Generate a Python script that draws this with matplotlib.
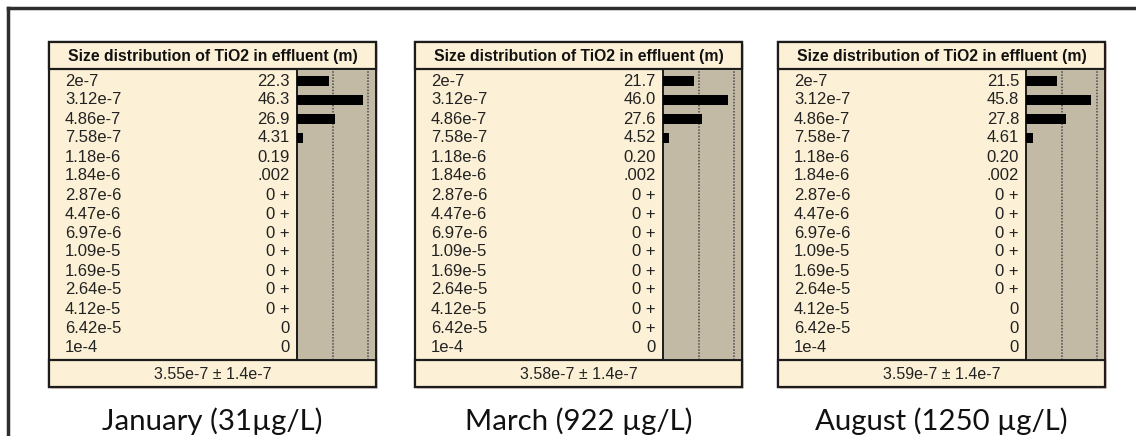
import matplotlib
matplotlib.use("Agg")
import matplotlib.pyplot as plt
from matplotlib.patches import Rectangle
from matplotlib.lines import Line2D

# size classes (m) shared by all three samples
sizes = ["2e-7", "3.12e-7", "4.86e-7", "7.58e-7", "1.18e-6", "1.84e-6", "2.87e-6",
         "4.47e-6", "6.97e-6", "1.09e-5", "1.69e-5", "2.64e-5", "4.12e-5", "6.42e-5", "1e-4"]

months = ["January (31\u00b5g/L)", "March (922 \u00b5g/L)", "August (1250 \u00b5g/L)"]

jan_vals = [22.3, 46.3, 26.9, 4.31, 0.19, 0.002, 0, 0, 0, 0, 0, 0, 0, 0, 0]
mar_vals = [21.7, 46.0, 27.6, 4.52, 0.20, 0.002, 0, 0, 0, 0, 0, 0, 0, 0, 0]
aug_vals = [21.5, 45.8, 27.8, 4.61, 0.20, 0.002, 0, 0, 0, 0, 0, 0, 0, 0, 0]

jan_text = ["22.3", "46.3", "26.9", "4.31", "0.19", ".002", "0 +", "0 +", "0 +", "0 +",
            "0 +", "0 +", "0 +", "0", "0"]
mar_text = ["21.7", "46.0", "27.6", "4.52", "0.20", ".002", "0 +", "0 +", "0 +", "0 +",
            "0 +", "0 +", "0 +", "0 +", "0"]
aug_text = ["21.5", "45.8", "27.8", "4.61", "0.20", ".002", "0 +", "0 +", "0 +", "0 +",
            "0 +", "0 +", "0", "0", "0"]

footers = ["3.55e-7 \u00b1 1.4e-7", "3.58e-7 \u00b1 1.4e-7", "3.59e-7 \u00b1 1.4e-7"]

W, H = 1136, 436
cream = "#fcf1d6"
grey = "#c3baa5"
edge = "#1c1c1c"

fig = plt.figure(figsize=(W / 100, H / 100), dpi=100)
fig.patch.set_facecolor("white")


def fx(x):
    return x / W


def fy(y):
    return 1 - y / H


def box(x0, y0, x1, y1, face, lw=1.6, z=1):
    fig.patches.append(Rectangle((fx(x0), fy(y1)), fx(x1 - x0), (y1 - y0) / H,
                                 transform=fig.transFigure, facecolor=face,
                                 edgecolor=edge, linewidth=lw, zorder=z))


# outer frame (only top and left edges fall inside the image)
fig.add_artist(Line2D([fx(8), fx(W)], [fy(8), fy(8)], color="#2e2e2e", lw=2.5,
                      transform=fig.transFigure))
fig.add_artist(Line2D([fx(8), fx(8)], [fy(8), fy(H)], color="#2e2e2e", lw=2.5,
                      transform=fig.transFigure))

panel_x = [49, 415, 778]
pw = 327
top, head_bot, data_bot, foot_bot = 42, 69, 360, 387
bar_off = 248
row0, row_h = 81, 19.0

for px, vals, texts, foot, title in zip(panel_x, [jan_vals, mar_vals, aug_vals],
                                        [jan_text, mar_text, aug_text], footers, months):
    # faint shadow, then panel body, header and footer
    box(px + 2, top + 2, px + pw + 2, foot_bot + 2, "#f3d9d0", lw=0, z=0)
    box(px, top, px + pw, foot_bot, cream)
    box(px, top, px + pw, head_bot, cream)
    box(px, data_bot, px + pw, foot_bot, cream)

    fig.text(fx(px + pw / 2), fy((top + head_bot) / 2 + 1),
             "Size distribution of TiO2 in effluent (m)", ha="center", va="center",
             fontsize=11.3, fontweight="bold", family="Liberation Sans", color="#111")
    fig.text(fx(px + pw / 2), fy((data_bot + foot_bot) / 2 + 1), foot, ha="center",
             va="center", fontsize=11.5, family="Liberation Sans", color="#222")

    ax = fig.add_axes([fx(px + bar_off), fy(data_bot), fx(pw - bar_off),
                       (data_bot - head_bot) / H])
    ax.set_zorder(5)
    ax.set_facecolor(grey)
    rows = list(range(len(sizes)))
    ax.barh(rows, vals, height=0.53, color="black", zorder=3)
    for v in (25, 50):
        ax.axvline(v, color="#4a4a4a", lw=1.1, ls=(0, (1, 1)), zorder=2)
    ax.set_xlim(0, 55.6)
    ax.set_ylim((data_bot - row0) / row_h, (head_bot - row0) / row_h)
    ax.set_xticks([])
    ax.set_yticks([])
    for s in ax.spines.values():
        s.set_color(edge)
        s.set_linewidth(1.4)

    tr = ax.get_yaxis_transform()
    lx = (16 - bar_off) / (pw - bar_off)
    vx = -7 / (pw - bar_off)
    for r, lab, t in zip(rows, sizes, texts):
        ax.text(lx, r, lab, transform=tr, ha="left", va="center",
                fontsize=12, family="Liberation Sans", color="#222", clip_on=False)
        ax.text(vx, r, t, transform=tr, ha="right", va="center",
                fontsize=12, family="Liberation Sans", color="#222", clip_on=False)

    fig.text(fx(px + pw / 2), fy(421), title, ha="center", va="center",
             fontsize=21.2, family="Lato", color="#111")

fig.savefig("out.png", dpi=100)
